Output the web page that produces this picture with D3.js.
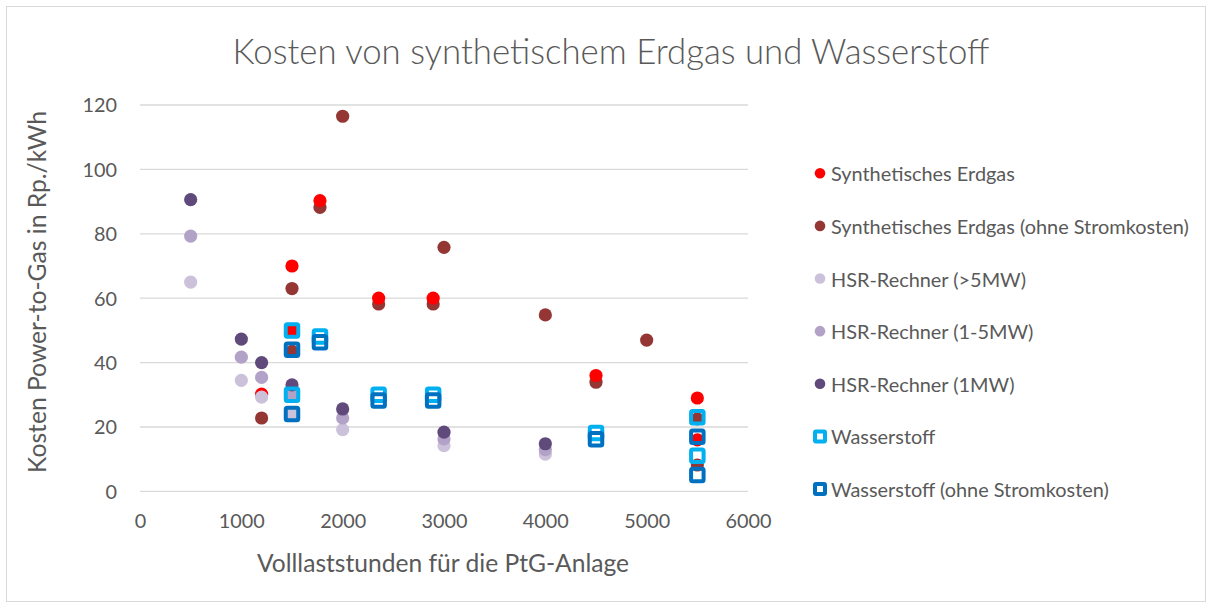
<!DOCTYPE html>
<html><head><meta charset="utf-8">
<script src="https://cdn.jsdelivr.net/npm/d3@7"></script>
<style>body{margin:0;background:#fff}svg{display:block}text{font-family:Lato,"Open Sans",sans-serif;fill:#595959}</style>
</head><body>
<svg id="c" width="1212" height="608"></svg>
<script>
const xTicks = [0,1000,2000,3000,4000,5000,6000];
const yTicks = [0,20,40,60,80,100,120];
const synErdgas = [[1500,70],[1500,50],[1200,30.2],[1776,90.3],[2355,60],[2893,60],[4500,36],[5500,29],[5500,16]];
const synErdgasOhne = [[2000,116.5],[1776,88.2],[1500,63],[2355,58.2],[2893,58.2],[3000,75.8],[4000,54.8],[5000,47],[4500,33.9],[1500,43.5],[1200,22.8],[5500,22.5],[5500,8.2]];
const hsrGross = [[500,65],[1000,34.5],[1200,29.3],[1500,24],[2000,19.2],[3000,14.2],[4000,11.6]];
const hsrMittel = [[500,79.3],[1000,41.7],[1200,35.4],[1500,30],[2000,22.8],[3000,16.3],[4000,13]];
const hsrKlein = [[500,90.6],[1000,47.3],[1200,40],[1500,33.1],[2000,25.6],[3000,18.4],[4000,14.8]];
const wasserstoff = [[1500,50],[1776,48.1],[1500,30],[2355,30],[2893,30],[4500,18.1],[5500,23],[5500,11.1]];
const wasserstoffOhne = [[1500,44],[1776,46.3],[1500,24],[2355,28.2],[2893,28.2],[4500,16.2],[5500,17],[5500,5.1]];

const series = [
  {name:"Synthetisches Erdgas", data:synErdgas, color:"#FF0000", shape:"circle", z:1},
  {name:"Synthetisches Erdgas (ohne Stromkosten)", data:synErdgasOhne, color:"#943634", shape:"circle", z:0},
  {name:"HSR-Rechner (>5MW)", data:hsrGross, color:"#CCC1DA", shape:"circle", z:2},
  {name:"HSR-Rechner (1-5MW)", data:hsrMittel, color:"#B3A2C7", shape:"circle", z:3},
  {name:"HSR-Rechner (1MW)", data:hsrKlein, color:"#604A7B", shape:"circle", z:4},
  {name:"Wasserstoff", data:wasserstoff, color:"#00B0F0", shape:"square", z:5},
  {name:"Wasserstoff (ohne Stromkosten)", data:wasserstoffOhne, color:"#0070C0", shape:"square", z:6}
];

const svg = d3.select("#c");
svg.append("rect").attr("x",6.5).attr("y",6.5).attr("width",1199).attr("height",595)
  .attr("fill","#fff").attr("stroke","#D9D9D9").attr("stroke-width",1);

const x = d3.scaleLinear().domain([0,6000]).range([140,748]);
const y = d3.scaleLinear().domain([0,120]).range([491.4,105]);

function fit(sel, w){
  const l = sel.node().getComputedTextLength();
  const fs = parseFloat(sel.attr("font-size"));
  return fs*w/l;
}

// gridlines
svg.append("g").selectAll("line").data(yTicks).join("line")
  .attr("x1",x(0)).attr("x2",x(6000)).attr("y1",d=>y(d)).attr("y2",d=>y(d))
  .attr("stroke","#D9D9D9").attr("stroke-width",1.3);

// axes (labels only)
const yAxis = svg.append("g").attr("transform",`translate(${x(0)-23},0)`)
  .call(d3.axisLeft(y).tickValues(yTicks).tickSize(0).tickPadding(0));
yAxis.select(".domain").remove();
const xAxis = svg.append("g").attr("transform",`translate(0,${y(0)+23})`)
  .call(d3.axisBottom(x).tickValues(xTicks).tickSize(0).tickPadding(0).tickFormat(d3.format("d")));
xAxis.select(".domain").remove();
const sample = xAxis.selectAll("text").filter(d=>d===1000).attr("font-size",20).attr("font-family",null);
const tfs = fit(sample, 46);
svg.selectAll(".tick text").attr("font-size",tfs).attr("font-family",null).attr("fill","#595959");
yAxis.selectAll("text").attr("dy","0.35em");
xAxis.selectAll("text").attr("dy","0.71em");

// marks
const order = series.slice().sort((a,b)=>a.z-b.z);
order.forEach(s=>{
  const g = svg.append("g");
  if(s.shape==="circle"){
    g.selectAll("circle").data(s.data).join("circle")
      .attr("cx",d=>x(d[0])).attr("cy",d=>y(d[1])).attr("r",6.6).attr("fill",s.color);
  } else {
    const a = 12.5;
    g.selectAll("rect").data(s.data).join("rect")
      .attr("x",d=>x(d[0])-a/2).attr("y",d=>y(d[1])-a/2).attr("width",a).attr("height",a)
      .attr("rx",1.5).attr("fill","none").attr("stroke",s.color).attr("stroke-width",4);
  }
});

// title
const title = svg.append("text").attr("x",611).attr("y",50).attr("text-anchor","middle")
  .attr("dominant-baseline","central").attr("font-size",30).attr("font-weight",300)
  .text("Kosten von synthetischem Erdgas und Wasserstoff");
title.attr("font-size",fit(title,757));

// axis titles
const yt = svg.append("text").attr("transform","translate(36,292) rotate(-90)")
  .attr("text-anchor","middle").attr("dominant-baseline","central").attr("font-size",20)
  .text("Kosten Power-to-Gas in Rp./kWh");
yt.attr("font-size",fit(yt,362));
const xt = svg.append("text").attr("x",443).attr("y",562).attr("text-anchor","middle")
  .attr("dominant-baseline","central").attr("font-size",20)
  .text("Volllaststunden für die PtG-Anlage");
xt.attr("font-size",fit(xt,372));

// legend
const ly = d3.scalePoint().domain(series.map(s=>s.name)).range([173.3,489]);
const leg = svg.append("g");
const items = leg.selectAll("g").data(series).join("g")
  .attr("transform",d=>`translate(0,${ly(d.name)})`);
items.each(function(s){
  const g = d3.select(this);
  if(s.shape==="circle") g.append("circle").attr("cx",820).attr("cy",0).attr("r",5.3).attr("fill",s.color);
  else g.append("rect").attr("x",815).attr("y",-5).attr("width",10).attr("height",10).attr("rx",1)
    .attr("fill","none").attr("stroke",s.color).attr("stroke-width",4);
});
const ltexts = items.append("text").attr("x",831).attr("y",0).attr("dominant-baseline","central")
  .attr("font-size",18).text(d=>d.name);
const longest = ltexts.filter(d=>d.name==="Synthetisches Erdgas (ohne Stromkosten)");
const lfs = fit(longest,358);
ltexts.attr("font-size",lfs);
</script>
</body></html>
